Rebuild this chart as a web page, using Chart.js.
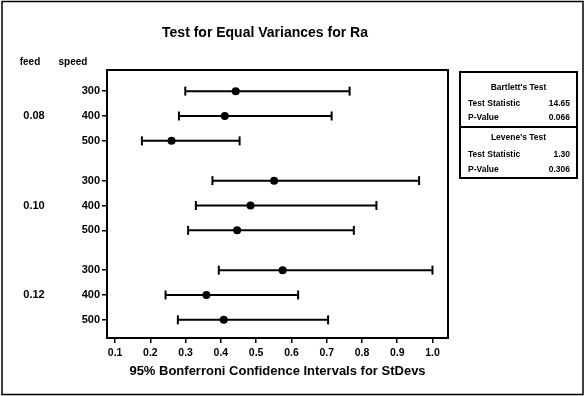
<!DOCTYPE html>
<html>
<head>
<meta charset="utf-8">
<script src="https://cdn.jsdelivr.net/npm/chart.js@4/dist/chart.umd.min.js"></script>
<style>
  html, body { margin: 0; padding: 0; background: #fff; }
  #wrap { width: 585px; height: 396px; position: relative; }
</style>
</head>
<body>
<div id="wrap"><canvas id="chart-1" width="585" height="396"></canvas></div>
<script>
// du lieu: khoang tin cay Bonferroni 95% cho do lech chuan cua Ra
var feeds = ['0.08', '0.10', '0.12'];
var speeds = ['300', '400', '500'];
var lower = [0.299, 0.281, 0.176, 0.376, 0.329, 0.307, 0.394, 0.243, 0.278];
var sigma = [0.442, 0.411, 0.260, 0.551, 0.484, 0.446, 0.575, 0.359, 0.408];
var upper = [0.765, 0.714, 0.453, 0.962, 0.841, 0.777, 1.000, 0.619, 0.704];
var xTicks = [0.1, 0.2, 0.3, 0.4, 0.5, 0.6, 0.7, 0.8, 0.9, 1.0];

var chartTitle = 'Test for Equal Variances for Ra';
var xTitle = '95% Bonferroni Confidence Intervals for StDevs';
var testNames = ["Bartlett's Test", "Levene's Test"];
var statLabels = ['Test Statistic', 'P-Value'];
var bartlett = ['14.65', '0.066'];
var levene = ['1.30', '0.306'];

// vi tri hang: 3 hang moi nhom, khoang cach giua cac nhom
function rowPos(i) {
    return Math.floor(i / 3) * 3.6 + (i % 3);
}

var rows = lower.map(function (v, i) { return rowPos(i); });

var datasets = lower.map(function (lo, i) {
    return {
        type: 'scatter',
        showLine: true,
        data: [{ x: lo, y: rows[i] }, { x: upper[i], y: rows[i] }],
        borderColor: '#000',
        borderWidth: 2,
        pointStyle: 'line',
        rotation: 90,
        pointRadius: 4.5,
        pointBorderWidth: 2,
        pointBorderColor: '#000'
    };
});
datasets.push({
    type: 'scatter',
    data: sigma.map(function (s, i) { return { x: s, y: rows[i] }; }),
    pointStyle: 'circle',
    pointRadius: 4,
    borderWidth: 0,
    backgroundColor: '#000',
    borderColor: '#000'
});

var FONT = '"Liberation Sans", Arial, sans-serif';

var extras = {
    id: 'extras',
    afterDraw: function (chart) {
        var c = chart.ctx;
        var a = chart.chartArea;
        var ys = chart.scales.y;
        c.save();
        // khung ngoai
        c.strokeStyle = '#000';
        c.lineWidth = 1.5;
        c.strokeRect(2, 1.5, 581, 393);
        // khung vung ve
        c.lineWidth = 2;
        c.strokeRect(a.left, a.top, a.right - a.left, a.bottom - a.top);

        c.fillStyle = '#000';
        c.textBaseline = 'middle';
        c.textAlign = 'center';
        c.font = 'bold 14px ' + FONT;
        c.fillText(chartTitle, 265, 33);

        c.font = 'bold 10px ' + FONT;
        c.fillText('feed', 30, 62);
        c.fillText('speed', 73, 62);
        c.font = 'bold 11px ' + FONT;
        feeds.forEach(function (f, g) {
            c.fillText(f, 34, ys.getPixelForValue(rows[g * 3 + 1]));
        });

        // bang ket qua kiem dinh
        var bx = 460, by = 72, bw = 117, bh = 106, mid = 127;
        c.lineWidth = 2;
        c.strokeRect(bx, by, bw, bh);
        c.beginPath();
        c.moveTo(bx, mid);
        c.lineTo(bx + bw, mid);
        c.stroke();
        var groups = [[bartlett, 88, 104, 118], [levene, 138, 155, 170]];
        groups.forEach(function (gr, k) {
            c.font = 'bold 8.5px ' + FONT;
            c.textAlign = 'center';
            c.fillText(testNames[k], bx + bw / 2, gr[1]);
            c.textAlign = 'left';
            c.fillText(statLabels[0], 468, gr[2]);
            c.fillText(statLabels[1], 468, gr[3]);
            c.textAlign = 'right';
            c.fillText(gr[0][0], 570, gr[2]);
            c.fillText(gr[0][1], 570, gr[3]);
        });
        c.restore();
    }
};

var ctx = document.getElementById('chart-1').getContext('2d');
var chart_ra = new Chart(ctx, {
    type: 'scatter',
    data: { datasets: datasets },
    options: {
        responsive: false,
        animation: false,
        layout: { padding: { left: 0, top: 70, right: 137, bottom: 17 } },
        plugins: {
            legend: { display: false },
            tooltip: { enabled: false },
            title: { display: false }
        },
        scales: {
            x: {
                type: 'linear',
                min: 0.077,
                max: 1.044,
                afterBuildTicks: function (s) {
                    s.ticks = xTicks.map(function (v) { return { value: v }; });
                },
                afterFit: function (s) { s.height = 41; },
                ticks: {
                    color: '#000',
                    font: { family: FONT, size: 10.5, weight: 'bold' },
                    padding: 4,
                    maxRotation: 0,
                    callback: function (v) { return Number(v).toFixed(1); }
                },
                grid: { drawOnChartArea: false, drawTicks: true, tickLength: 5, color: '#000', lineWidth: 1.5 },
                border: { display: true, color: '#000', width: 2 },
                title: {
                    display: true,
                    text: xTitle,
                    color: '#000',
                    font: { family: FONT, size: 13, weight: 'bold' },
                    padding: { top: 2, bottom: 0 }
                }
            },
            y: {
                type: 'linear',
                reverse: true,
                min: -0.85,
                max: 9.93,
                afterBuildTicks: function (s) {
                    s.ticks = rows.map(function (v) { return { value: v }; });
                },
                afterFit: function (s) { s.width = 107; },
                ticks: {
                    color: '#000',
                    font: { family: FONT, size: 11, weight: 'bold' },
                    padding: 2,
                    callback: function (v, i) { return speeds[i % 3]; }
                },
                grid: { drawOnChartArea: false, drawTicks: true, tickLength: 5, color: '#000', lineWidth: 1.5 },
                border: { display: true, color: '#000', width: 2 }
            }
        }
    },
    plugins: [extras]
});
</script>
</body>
</html>
